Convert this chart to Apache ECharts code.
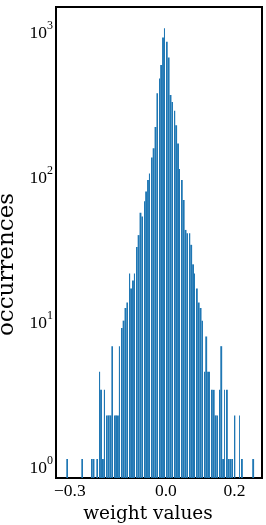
<!DOCTYPE html>
<html>
<head>
<meta charset="utf-8">
<script src="https://cdn.jsdelivr.net/npm/echarts@6/dist/echarts.min.js"></script>
<style>
html,body{margin:0;padding:0;background:#fff;}
#chart{width:266px;height:525px;}
</style>
</head>
<body>
<div id="chart"></div>
<script>
// Histogram: 100 equal bins
const binStart = -0.290;
const binWidth = 0.00547;
const counts = [
 1,0,0,0,0,0,0,0,1,0,
 0,0,0,1,1,0,1,4,3,1,
 3,2,2,2,6,2,2,2,6,8,
 9,11,12,19,15,17,19,29,35,50,
 47,60,70,84,93,120,139,195,333,420,
 521,805,934,755,586,324,290,252,200,150,
 100,84,61,38,36,36,30,22,19,15,
 12,11,9,4,7,4,4,3,3,2,
 2,3,6,1,3,3,1,1,1,2,
 0,0,2,1,0,0,0,0,0,1
];
const xTickLabels = {'-0.3':'\u22120.3','0':'0.0','0.2':'0.2'};
const yMin = 0.74, yMax = 1309;

const data = [];
for (let i = 0; i < counts.length; i++) {
  const l = binStart + i * binWidth;
  data.push([l, l + binWidth, counts[i] > 0 ? counts[i] : null, i]);
}

const chart = echarts.init(document.getElementById('chart'));
chart.setOption({
  animation: false,
  grid: {left: 56, right: 4, top: 7, bottom: 47, containLabel: false, outerBoundsMode: 'none',
         show: true, borderColor: '#000', borderWidth: 2, backgroundColor: 'transparent'},
  xAxis: {
    type: 'value', min: -0.32, max: 0.28, interval: 0.02,
    axisLine: {show: false}, axisTick: {show: false}, splitLine: {show: false},
    axisLabel: {
      margin: 4, color: '#000', fontFamily: 'Liberation Serif', fontSize: 17.5,
      formatter: function (v) {
        const k = (Math.round(v * 100) / 100).toString();
        return xTickLabels[k] !== undefined ? (k === '-0.3' ? '{m|' + xTickLabels[k] + '}' : xTickLabels[k]) : '';
      },
      rich: {m: {fontFamily: 'Liberation Serif', fontSize: 17.5, color: '#000', padding: [0, 0, 0, 14]}}
    },
    name: 'weight values', nameLocation: 'middle', nameGap: 27, nameMoveOverlap: false,
    nameTextStyle: {fontFamily: 'DejaVu Serif', fontSize: 18.5, color: '#000', padding: [0, 22, 0, 0]}
  },
  yAxis: {
    type: 'log', logBase: 10, min: yMin, max: yMax,
    axisLine: {show: false}, axisTick: {show: false}, splitLine: {show: false}, minorTick: {show: false},
    axisLabel: {
      margin: 3, padding: [14, 0, 0, 0],
      formatter: function (v) {
        const e = Math.log10(v);
        if (Math.abs(e - Math.round(e)) > 1e-6) return '';
        return '{b|10}{s|' + Math.round(e) + '}';
      },
      rich: {
        b: {fontFamily: 'Liberation Serif', fontSize: 17.5, color: '#000', lineHeight: 22, verticalAlign: 'bottom'},
        s: {fontFamily: 'Liberation Serif', fontSize: 12, color: '#000', lineHeight: 12, verticalAlign: 'top'}
      }
    },
    name: 'occurrences', nameLocation: 'middle', nameGap: 37, nameMoveOverlap: false,
    nameTextStyle: {fontFamily: 'DejaVu Serif', fontSize: 23, color: '#000', padding: [0, 44, 0, 0]}
  },
  series: [{
    type: 'custom',
    data: data,
    encode: {x: [0, 1], y: 2},
    renderItem: function (params, api) {
      const c = api.value(2);
      if (!(c > 0)) return null;
      const i = api.value(3);
      const p0 = api.coord([api.value(0), c]);
      const p1 = api.coord([api.value(1), yMin]);
      let L = p0[0], R = p1[0];
      if (i % 4 === 0) R = Math.floor(R);
      if (i % 4 === 1) L = Math.floor(L) + 1;
      return {type: 'rect', shape: {x: L, y: p0[1], width: Math.max(R - L, 0.6), height: p1[1] - p0[1]},
              style: {fill: '#1f77b4'}};
    }
  }]
});
</script>
</body>
</html>
